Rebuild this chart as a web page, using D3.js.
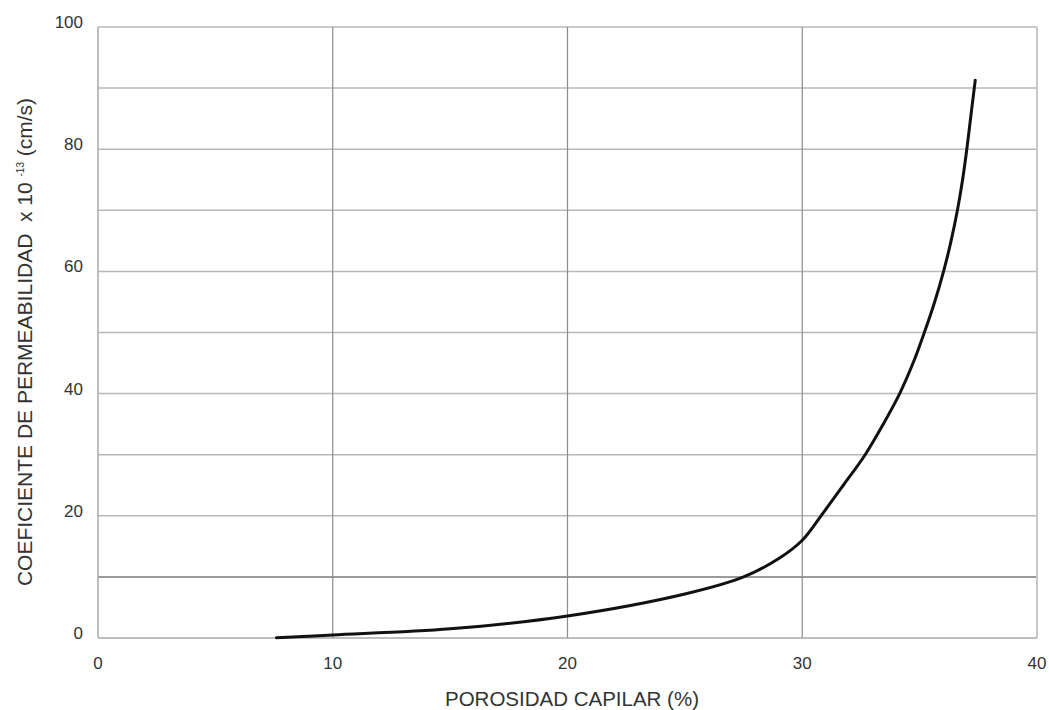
<!DOCTYPE html>
<html>
<head>
<meta charset="utf-8">
<script src="https://cdn.jsdelivr.net/npm/d3@7"></script>
<style>
  body { margin: 0; background: #fff; }
  text { font-family: "Liberation Sans", Arial, sans-serif; fill: #333; }
</style>
</head>
<body>
<svg id="canvas" width="1049" height="710"></svg>
<script>
// Values
let porosity = [7.6, 10, 15, 20, 25, 27.5, 29, 30, 30.8, 31.75, 32.68, 33.45, 34.15, 34.72, 35.2, 35.64, 36.02, 36.34, 36.61, 36.83, 37.01, 37.2, 37.37];
let permeability = [0.05, 0.5, 1.5, 3.6, 7.2, 10, 13, 16, 20, 25, 30, 35, 40, 45, 50, 55, 60, 65, 70, 75, 80, 86, 91.3];

let xTicks = [0, 10, 20, 30, 40];
let yTicks = [0, 20, 40, 60, 80, 100];
let yGrid = [10, 20, 30, 40, 50, 60, 70, 80, 90, 100];

let canvas = d3.select("#canvas");

let xScale = d3.scaleLinear().domain([0, 40]).range([98, 1037]);
let yScale = d3.scaleLinear().domain([0, 100]).range([638, 27]);

// horizontal grid
canvas.append("g")
  .selectAll("line")
  .data(yGrid)
  .enter()
  .append("line")
  .attr("x1", xScale(0))
  .attr("x2", xScale(40))
  .attr("y1", (d) => yScale(d))
  .attr("y2", (d) => yScale(d))
  .attr("stroke", (d) => (d === 10 ? "#7a7a7a" : "#b8b8b8"))
  .attr("stroke-width", 1.5);

// vertical grid
canvas.append("g")
  .selectAll("line")
  .data([10, 20, 30])
  .enter()
  .append("line")
  .attr("x1", (d) => xScale(d))
  .attr("x2", (d) => xScale(d))
  .attr("y1", yScale(0))
  .attr("y2", yScale(100))
  .attr("stroke", "#8c8c8c")
  .attr("stroke-width", 1.2);

// right border
canvas.append("line")
  .attr("x1", xScale(40)).attr("x2", xScale(40))
  .attr("y1", yScale(0)).attr("y2", yScale(100))
  .attr("stroke", "#c8c8c8").attr("stroke-width", 2);

// axes lines
canvas.append("line")
  .attr("x1", xScale(0)).attr("x2", xScale(0))
  .attr("y1", yScale(0)).attr("y2", yScale(100))
  .attr("stroke", "#a8a8a8").attr("stroke-width", 1.5);
canvas.append("line")
  .attr("x1", xScale(0)).attr("x2", xScale(40))
  .attr("y1", yScale(0)).attr("y2", yScale(0))
  .attr("stroke", "#a8a8a8").attr("stroke-width", 1.5);

// tick labels
canvas.append("g")
  .selectAll("text")
  .data(xTicks)
  .enter()
  .append("text")
  .attr("x", (d) => xScale(d))
  .attr("y", 669)
  .attr("text-anchor", "middle")
  .attr("font-size", 17)
  .text((d) => d);

canvas.append("g")
  .selectAll("text")
  .data(yTicks)
  .enter()
  .append("text")
  .attr("x", 83)
  .attr("y", (d) => yScale(d) + 1)
  .attr("text-anchor", "end")
  .attr("font-size", 17)
  .text((d) => d);

// axis titles
canvas.append("text")
  .attr("x", 572)
  .attr("y", 706)
  .attr("text-anchor", "middle")
  .attr("font-size", 20.5)
  .text("POROSIDAD CAPILAR (%)");

let yTitle = canvas.append("text")
  .attr("transform", "translate(32,342) rotate(-90)")
  .attr("text-anchor", "middle")
  .attr("font-size", 21);
yTitle.append("tspan").text("COEFICIENTE DE PERMEABILIDAD\u00a0\u00a0x 10\u00a0");
yTitle.append("tspan").attr("font-size", 10).attr("dy", -8).text("-13");
yTitle.append("tspan").attr("dy", 8).text("\u00a0(cm/s)");

// curve
let points = porosity.map((p, i) => [p, permeability[i]]);
let line = d3.line()
  .x((d) => xScale(d[0]))
  .y((d) => yScale(d[1]))
  .curve(d3.curveCatmullRom.alpha(0.5));

canvas.append("path")
  .datum(points)
  .attr("d", line)
  .attr("fill", "none")
  .attr("stroke", "#111")
  .attr("stroke-width", 3)
  .attr("stroke-linecap", "round");
</script>
</body>
</html>
